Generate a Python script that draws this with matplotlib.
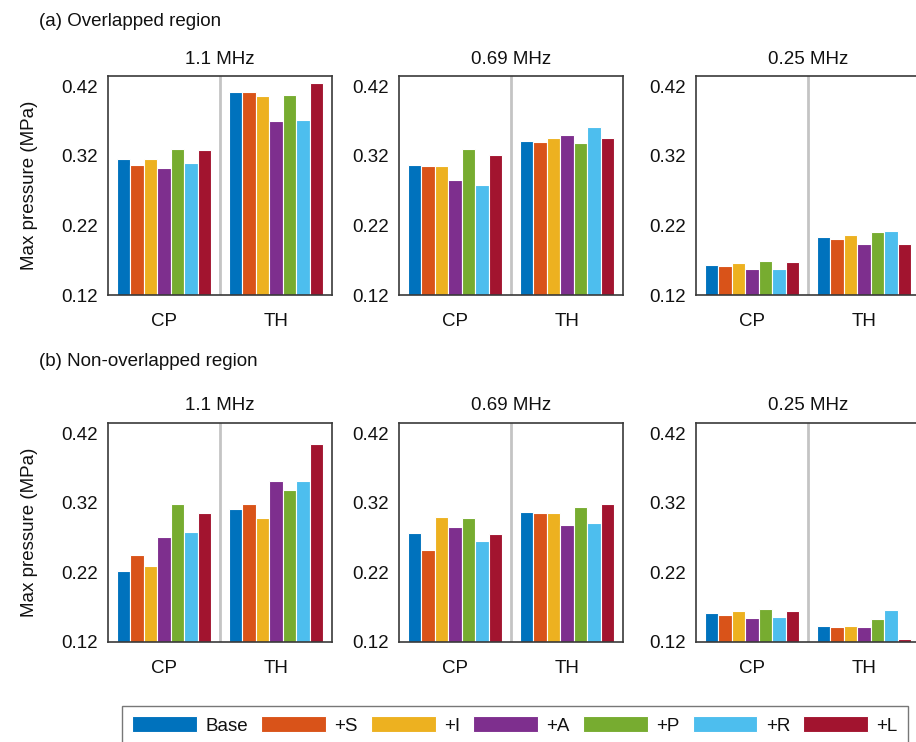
import matplotlib
matplotlib.use("Agg")
import matplotlib.pyplot as plt
from matplotlib.patches import Patch
import numpy as np

plt.rcParams['font.family'] = ['Liberation Sans', 'DejaVu Sans']

freqs = ['1.1 MHz', '0.69 MHz', '0.25 MHz']
groups = ['CP', 'TH']
series = ['Base', '+S', '+I', '+A', '+P', '+R', '+L']
colors = ['#0072BD', '#D95319', '#EDB120', '#7E2F8E', '#77AC30', '#4DBEEE', '#A2142F']
yticks = [0.12, 0.22, 0.32, 0.42]
row_titles = ['(a) Overlapped region', '(b) Non-overlapped region']

# (a) Overlapped region
overlap_cp_11 = [0.315, 0.307, 0.315, 0.303, 0.330, 0.310, 0.328]
overlap_th_11 = [0.412, 0.412, 0.406, 0.370, 0.408, 0.372, 0.425]
overlap_cp_069 = [0.307, 0.306, 0.306, 0.285, 0.330, 0.278, 0.322]
overlap_th_069 = [0.342, 0.340, 0.346, 0.350, 0.339, 0.361, 0.346]
overlap_cp_025 = [0.163, 0.161, 0.166, 0.157, 0.169, 0.157, 0.167]
overlap_th_025 = [0.204, 0.200, 0.207, 0.193, 0.211, 0.212, 0.193]
# (b) Non-overlapped region
nonoverlap_cp_11 = [0.222, 0.245, 0.230, 0.271, 0.318, 0.278, 0.305]
nonoverlap_th_11 = [0.311, 0.319, 0.298, 0.351, 0.338, 0.351, 0.405]
nonoverlap_cp_069 = [0.277, 0.253, 0.300, 0.286, 0.298, 0.265, 0.275]
nonoverlap_th_069 = [0.307, 0.305, 0.305, 0.289, 0.314, 0.291, 0.319]
nonoverlap_cp_025 = [0.162, 0.159, 0.165, 0.155, 0.168, 0.156, 0.164]
nonoverlap_th_025 = [0.143, 0.142, 0.143, 0.141, 0.153, 0.166, 0.125]

data = [
    [(overlap_cp_11, overlap_th_11), (overlap_cp_069, overlap_th_069), (overlap_cp_025, overlap_th_025)],
    [(nonoverlap_cp_11, nonoverlap_th_11), (nonoverlap_cp_069, nonoverlap_th_069), (nonoverlap_cp_025, nonoverlap_th_025)],
]

W, H = 916, 742
fig = plt.figure(figsize=(W / 100, H / 100), dpi=100)

FS = 13.5
txt = '#111111'
col_left = [108, 399, 696]
ax_w = 224
row_top = [76, 423]
ax_h = 219

group_w = 0.845
bw = group_w / len(series)

for r in range(2):
    for c in range(3):
        l = col_left[c]
        t = row_top[r]
        ax = fig.add_axes([l / W, 1 - (t + ax_h) / H, ax_w / W, ax_h / H])
        cp, th = data[r][c]
        for gi, vals in enumerate((cp, th)):
            for i, v in enumerate(vals):
                ax.bar(gi + (i - 3) * bw, v, width=bw, color=colors[i],
                       edgecolor='white', linewidth=0.8, zorder=2)
        ax.axvline(0.5, color='#c4c4c4', lw=2, zorder=1)
        ax.set_xlim(-0.5, 1.5)
        ax.set_ylim(0.12, 0.435)
        ax.set_yticks(yticks)
        ax.set_yticklabels([f'{y:.2f}' for y in yticks])
        ax.set_xticks([0, 1])
        ax.set_xticklabels(groups)
        ax.tick_params(axis='both', length=0, labelsize=FS, colors=txt)
        ax.tick_params(axis='y', pad=7)
        ax.tick_params(axis='x', pad=13)
        for s in ax.spines.values():
            s.set_color('#3a3a3a')
            s.set_linewidth(1.2)
        ax.set_title(freqs[c], fontsize=FS, color=txt, pad=9)
        if c == 0:
            ax.set_ylabel('Max pressure (MPa)', fontsize=FS, color=txt, labelpad=17)

fig.text(39 / W, 1 - 22 / H, row_titles[0], fontsize=FS, color=txt, va='center', ha='left')
fig.text(39 / W, 1 - 361 / H, row_titles[1], fontsize=FS, color=txt, va='center', ha='left')

handles = [Patch(facecolor=colors[i], edgecolor='white', linewidth=0.8) for i in range(len(series))]
leg = fig.legend(handles, series, ncol=7, loc='upper left',
                 bbox_to_anchor=(122 / W, 1 - 706 / H), frameon=True, fancybox=False,
                 edgecolor='#555555', fontsize=FS, handlelength=3.45, handleheight=0.95,
                 handletextpad=0.45, columnspacing=0.7, borderpad=0.55, borderaxespad=0)
leg.get_frame().set_linewidth(1.0)
for tx in leg.get_texts():
    tx.set_color(txt)

fig.savefig('out.png', dpi=100)
